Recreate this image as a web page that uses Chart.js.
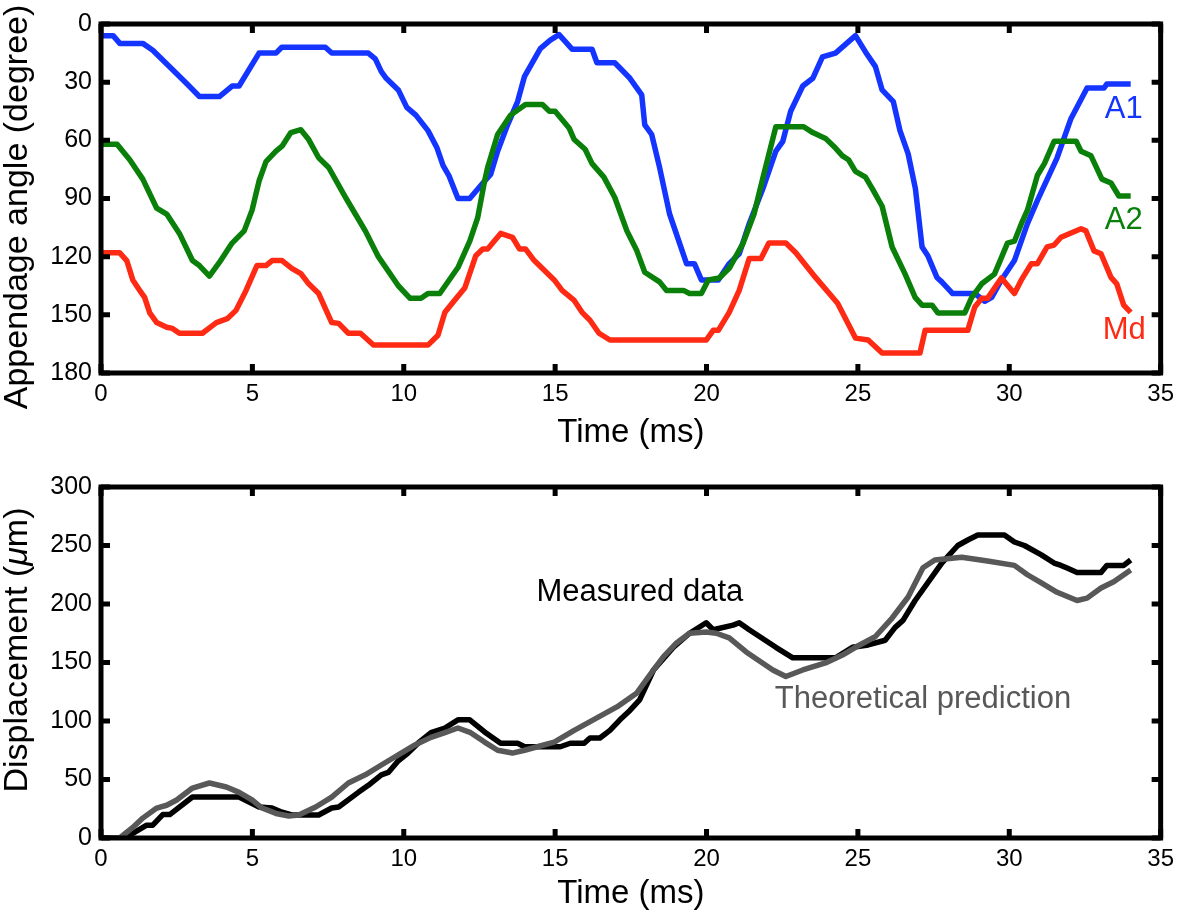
<!DOCTYPE html>
<html>
<head>
<meta charset="utf-8">
<script src="https://cdn.jsdelivr.net/npm/chart.js@4.4.1/dist/chart.umd.min.js"></script>
<style>
  body { margin: 0; background: #fff; }
  #wrap { position: relative; width: 1181px; height: 913px; }
  #angleChart { position: absolute; left: 0; top: 0; }
  #dispChart { position: absolute; left: 0; top: 456px; }
</style>
</head>
<body>
<div id="wrap">
  <canvas id="angleChart" width="1181" height="456"></canvas>
  <canvas id="dispChart" width="1181" height="457"></canvas>
</div>
<script>
/* ---- data (time in ms) ---- */
const a1Time  = [0, 0.4, 0.62, 1.38, 1.71, 2.82, 3.25, 3.91, 4.33, 4.56, 5.22, 5.78, 5.97, 7.41, 7.62, 8.83, 9.06, 9.26, 9.42, 9.82, 10.1, 10.4, 10.8, 11.1, 11.3, 11.5, 11.79, 12.18, 12.67, 12.87, 13.1, 13.43, 13.76, 13.99, 14.51, 14.84, 15.13, 15.56, 16.22, 16.38, 16.97, 17.47, 17.86, 17.96, 18.19, 18.45, 18.78, 19.34, 19.6, 19.83, 20.39, 20.75, 21.08, 21.41, 21.86, 22.29, 22.52, 22.78, 23.18, 23.51, 23.83, 24.26, 24.92, 25.25, 25.58, 25.8, 26.17, 26.39, 26.66, 26.9, 27.12, 27.31, 27.61, 27.77, 28.13, 28.86, 29.19, 29.42, 29.74, 30.17, 30.6, 30.93, 31.58, 32.04, 32.57, 33.13, 33.22, 34.01];
const a1Angle = [6, 6, 10, 10, 13.5, 30.6, 37.4, 37.4, 32, 32, 15, 15, 12, 12, 15, 15, 18, 24.6, 28, 34, 43, 47, 55, 64, 73, 78.5, 90, 90, 81, 77.6, 65.6, 52, 40, 27, 12.7, 8.3, 5.5, 13, 13, 20, 20, 28, 36.6, 52, 57, 74, 98, 123.6, 123.6, 132, 132, 123.6, 118.5, 103, 85, 65.6, 60.5, 45, 32, 28, 17, 15, 6, 14.4, 22, 34, 40, 55, 67, 85, 115, 119.5, 130.7, 133, 139, 139, 143, 141, 132, 122, 103, 91, 69, 48.7, 33, 33, 31, 31];

const a2Time  = [0, 0.53, 0.95, 1.38, 1.84, 2.17, 2.59, 3.02, 3.25, 3.58, 3.91, 4.33, 4.73, 4.99, 5.22, 5.45, 5.78, 5.98, 6.27, 6.6, 6.86, 7.19, 7.52, 8.08, 8.4, 8.73, 9.16, 9.82, 10.21, 10.57, 10.8, 11.19, 11.79, 12.18, 12.44, 12.67, 12.77, 13.1, 13.53, 14.02, 14.58, 14.81, 15.0, 15.46, 15.63, 15.99, 16.22, 16.61, 16.97, 17.37, 17.7, 17.96, 18.45, 18.68, 19.24, 19.44, 19.83, 20.06, 20.42, 20.75, 21.21, 21.57, 21.86, 22.29, 23.21, 23.51, 23.93, 24.26, 24.49, 24.69, 24.92, 25.25, 25.48, 25.8, 26.13, 26.56, 26.89, 27.12, 27.45, 27.64, 28.53, 28.76, 29.09, 29.51, 29.74, 29.94, 30.17, 30.4, 30.6, 30.93, 31.16, 31.48, 32.21, 32.37, 32.7, 33.06, 33.36, 33.62, 34.01];
const a2Angle = [62, 62, 70, 80, 95, 98, 108, 122, 124.6, 130, 123, 113, 106.7, 96, 81, 71, 65.6, 63, 56, 54.5, 59.6, 69, 74, 89.5, 98, 106.7, 120, 135, 141.5, 141.5, 139, 139, 125.6, 112, 100, 81, 74, 57, 47, 41.5, 41.5, 45, 45, 53.6, 59.6, 64.6, 72, 79, 89.5, 106.7, 117, 128, 133, 137.4, 137.4, 139, 139, 132, 131, 126, 113, 98, 79.5, 53, 53, 56, 59, 64, 68, 70, 76, 79, 85, 94, 115, 129, 141, 145, 145, 149, 149, 141, 134, 129, 120.5, 113, 112, 103, 96, 78, 72, 60.5, 60.5, 65.6, 68, 80, 82, 88.7, 88.7];

const mdTime  = [0, 0.62, 0.85, 1.05, 1.28, 1.44, 1.61, 1.84, 2.17, 2.36, 2.59, 3.35, 3.81, 4.17, 4.46, 4.79, 5.15, 5.45, 5.65, 5.98, 6.3, 6.6, 6.86, 7.19, 7.62, 7.85, 8.17, 8.57, 9.0, 10.8, 11.13, 11.36, 11.62, 12.02, 12.38, 12.61, 12.77, 13.2, 13.59, 13.82, 14.02, 14.31, 14.97, 15.23, 15.63, 15.89, 16.15, 16.45, 16.81, 19.99, 20.22, 20.39, 20.75, 21.08, 21.41, 21.8, 22.06, 22.62, 22.95, 23.6, 24.33, 24.92, 25.34, 25.8, 27.05, 27.22, 28.63, 28.86, 29.09, 29.28, 29.74, 30.17, 30.4, 30.73, 30.93, 31.25, 31.48, 31.71, 32.37, 32.53, 32.8, 33.03, 33.36, 33.55, 33.78, 34.01];
const mdAngle = [118, 118, 122, 132, 137.4, 141, 149, 154, 156.4, 157, 159.5, 159.5, 154, 152, 147.7, 137.4, 124.6, 124.6, 122, 122, 126, 128.7, 134, 139, 154, 154.4, 159.5, 159.5, 165.6, 165.6, 160.5, 148.7, 143.6, 136, 119.5, 116, 116, 108, 110, 116, 116, 122, 132, 137.4, 142.6, 148.7, 152.8, 159.5, 163, 163, 158, 158, 148.7, 137.4, 121, 121, 113, 113, 118, 130.7, 144, 162, 163, 169.7, 169.7, 158, 158, 146, 141.5, 141.5, 131, 139, 132, 123.6, 123.6, 115, 114, 110, 105.6, 106.7, 117, 118.5, 130.7, 134, 145, 148.7];

const measTime = [0, 0.72, 1.05, 1.51, 1.71, 2.04, 2.27, 3.02, 4.56, 5.22, 5.65, 5.98, 6.3, 7.19, 7.62, 7.85, 8.5, 8.83, 9.26, 9.49, 9.82, 10.14, 10.47, 10.9, 11.36, 11.79, 12.18, 12.67, 13.2, 13.76, 13.99, 15.17, 15.5, 15.96, 16.15, 16.48, 16.81, 17.14, 17.47, 17.79, 18.25, 18.91, 19.44, 19.99, 20.22, 20.88, 21.08, 21.41, 22.29, 22.85, 24.26, 24.82, 25.34, 25.9, 26.23, 26.49, 26.89, 27.77, 28.3, 28.63, 28.96, 29.84, 30.17, 30.5, 31.06, 31.48, 31.71, 31.91, 32.24, 33.03, 33.22, 33.78, 34.01];
const measDisp = [0, 0, 4, 11, 11, 20, 20, 35, 35, 26.5, 25.6, 22, 19.7, 19.7, 25.6, 26.5, 39, 45, 54, 56, 66, 72.6, 81, 90, 94, 101, 101, 90.6, 81, 81, 78, 78, 81, 81, 85.5, 85.5, 92, 101, 109, 118, 143.6, 163, 175, 184, 178, 182, 184, 178, 163, 154, 154, 163, 165, 169, 180, 186, 203, 235, 250, 254.7, 259, 259, 253, 250, 242, 235, 233, 230.7, 227, 227, 233, 233, 237.6];

const theoTime = [0, 0.62, 1.05, 1.38, 1.84, 2.17, 2.5, 3.02, 3.58, 4.14, 4.56, 4.99, 5.32, 5.78, 6.2, 6.53, 7.09, 7.62, 8.17, 8.73, 9.26, 9.82, 10.37, 10.9, 11.36, 11.79, 12.21, 12.67, 13.1, 13.59, 13.99, 14.41, 14.97, 15.63, 16.38, 17.04, 17.7, 18.25, 18.58, 19.01, 19.44, 19.99, 20.32, 20.75, 21.31, 22.19, 22.62, 23.18, 23.93, 24.49, 24.92, 25.57, 26.13, 26.66, 27.15, 27.54, 28.43, 29.28, 30.17, 30.6, 31.06, 31.58, 32.24, 32.57, 33.03, 33.45, 34.01];
const theoDisp = [0, 0, 9, 17, 25.6, 28, 32.5, 42.7, 47, 43.6, 39, 32.5, 25.6, 21, 18.8, 19.7, 26.5, 35, 47, 54, 62.4, 71, 79.5, 86, 90, 94, 90, 82, 75, 72.6, 75, 78, 82, 92, 102.6, 112, 124, 143.6, 155, 166.7, 175, 176, 175, 171, 159, 143.6, 138, 143.6, 149.6, 156.4, 163, 172, 188, 206, 231, 237.6, 240, 236.8, 233, 225, 218, 210, 203, 205, 213.7, 219, 229];

const timeTicks = [0, 5, 10, 15, 20, 25, 30, 35];
const angleTicks = [0, 30, 60, 90, 120, 150, 180];
const dispTicks = [0, 50, 100, 150, 200, 250, 300];

const FONT = '"Liberation Sans", Arial, Helvetica, sans-serif';

function toPoints(xs, ys) {
    return xs.map((x, i) => ({ x: x, y: ys[i] }));
}

/* MATLAB-like box: thick frame with inward ticks on all sides */
const boxPlugin = {
    id: 'box',
    afterDatasetsDraw(chart) {
        const { ctx, chartArea: a, scales } = chart;
        const x = scales.x, y = scales.y;
        const tl = 9;
        ctx.save();
        ctx.strokeStyle = '#000';
        ctx.lineWidth = 5;
        ctx.lineCap = 'butt';
        ctx.beginPath();
        x.ticks.forEach(t => {
            const px = x.getPixelForValue(t.value);
            ctx.moveTo(px, a.bottom); ctx.lineTo(px, a.bottom - tl);
            ctx.moveTo(px, a.top); ctx.lineTo(px, a.top + tl);
        });
        y.ticks.forEach(t => {
            const py = y.getPixelForValue(t.value);
            ctx.moveTo(a.left, py); ctx.lineTo(a.left + tl, py);
            ctx.moveTo(a.right, py); ctx.lineTo(a.right - tl, py);
        });
        ctx.stroke();
        ctx.strokeRect(a.left, a.top, a.right - a.left, a.bottom - a.top);
        ctx.restore();
    }
};

/* text labels placed in data coordinates, plus the rotated y title */
const labelPlugin = {
    id: 'labels',
    afterDatasetsDraw(chart, args, opts) {
        const { ctx, scales } = chart;
        ctx.save();
        ctx.font = opts.font;
        ctx.textAlign = 'center';
        ctx.textBaseline = 'middle';
        opts.items.forEach(it => {
            ctx.fillStyle = it.color;
            ctx.fillText(it.text, scales.x.getPixelForValue(it.x), scales.y.getPixelForValue(it.y));
        });
        ctx.restore();

        // y title, parts may be italic
        const parts = opts.yTitle;
        ctx.save();
        ctx.translate(18, opts.yTitleCenter);
        ctx.rotate(-Math.PI / 2);
        ctx.textBaseline = 'middle';
        ctx.textAlign = 'left';
        ctx.fillStyle = '#000';
        let total = 0;
        parts.forEach(p => { ctx.font = (p.italic ? 'italic ' : '') + '34px ' + FONT; total += ctx.measureText(p.text).width; });
        let cx = -total / 2;
        parts.forEach(p => {
            ctx.font = (p.italic ? 'italic ' : '') + '34px ' + FONT;
            ctx.fillText(p.text, cx, 0);
            cx += ctx.measureText(p.text).width;
        });
        ctx.restore();
    }
};

function makeOptions(cfg) {
    return {
        responsive: false,
        animation: false,
        devicePixelRatio: 1,
        layout: { padding: { top: cfg.padTop, right: 15, left: 0, bottom: 0 } },
        plugins: {
            legend: { display: false },
            tooltip: { enabled: false },
            labels: { font: '31px ' + FONT, items: cfg.labels, yTitle: cfg.yTitle, yTitleCenter: cfg.yTitleCenter }
        },
        elements: { point: { radius: 0 }, line: { tension: 0, borderWidth: 5.5, borderCapStyle: 'butt', borderJoinStyle: 'round' } },
        scales: {
            x: {
                type: 'linear', min: 0, max: 35,
                afterFit: s => { s.height = cfg.xHeight; },
                afterBuildTicks: s => { s.ticks = timeTicks.map(v => ({ value: v })); },
                grid: { display: false, drawTicks: false },
                border: { display: false },
                ticks: { color: '#000', padding: 7, font: { family: FONT, size: 24 }, maxRotation: 0 },
                title: { display: true, text: 'Time (ms)', color: '#000',
                         font: { family: FONT, size: 33, lineHeight: 1 }, padding: { top: 0, bottom: cfg.xTitlePad } }
            },
            y: {
                type: 'linear', min: cfg.yMin, max: cfg.yMax, reverse: cfg.reverse,
                afterFit: s => { s.width = 101; },
                afterBuildTicks: s => { s.ticks = cfg.yTicks.map(v => ({ value: v })); },
                grid: { display: false, drawTicks: false },
                border: { display: false },
                ticks: { color: '#000', padding: 9, font: { family: FONT, size: 25 } },
                title: { display: false }
            }
        }
    };
}

new Chart(document.getElementById('angleChart'), {
    type: 'line',
    data: {
        datasets: [
            { label: 'A1', data: toPoints(a1Time, a1Angle), borderColor: '#1434ff', order: 2 },
            { label: 'A2', data: toPoints(a2Time, a2Angle), borderColor: '#0a800a', order: 1 },
            { label: 'Md', data: toPoints(mdTime, mdAngle), borderColor: '#ff2a14', order: 0 }
        ]
    },
    options: makeOptions({
        padTop: 22, xHeight: 83, xTitlePad: 7,
        yMin: 0, yMax: 180, reverse: true, yTicks: angleTicks,
        yTitle: [{ text: 'Appendage angle (degree)' }], yTitleCenter: 207,
        labels: [
            { text: 'A1', x: 33.78, y: 44, color: '#1434ff' },
            { text: 'A2', x: 33.78, y: 101.5, color: '#0a800a' },
            { text: 'Md', x: 33.8, y: 158, color: '#ff2a14' }
        ]
    }),
    plugins: [boxPlugin, labelPlugin]
});

new Chart(document.getElementById('dispChart'), {
    type: 'line',
    data: {
        datasets: [
            { label: 'Measured data', data: toPoints(measTime, measDisp), borderColor: '#000000', order: 1 },
            { label: 'Theoretical prediction', data: toPoints(theoTime, theoDisp), borderColor: '#585858', order: 0 }
        ]
    },
    options: makeOptions({
        padTop: 31, xHeight: 75, xTitlePad: 3,
        yMin: 0, yMax: 300, reverse: false, yTicks: dispTicks,
        yTitle: [{ text: 'Displacement (' }, { text: '\u03BC', italic: true }, { text: 'm)' }], yTitleCenter: 194,
        labels: [
            { text: 'Measured data', x: 17.8, y: 210, color: '#000' },
            { text: 'Theoretical prediction', x: 27.15, y: 118, color: '#585858' }
        ]
    }),
    plugins: [boxPlugin, labelPlugin]
});
</script>
</body>
</html>
